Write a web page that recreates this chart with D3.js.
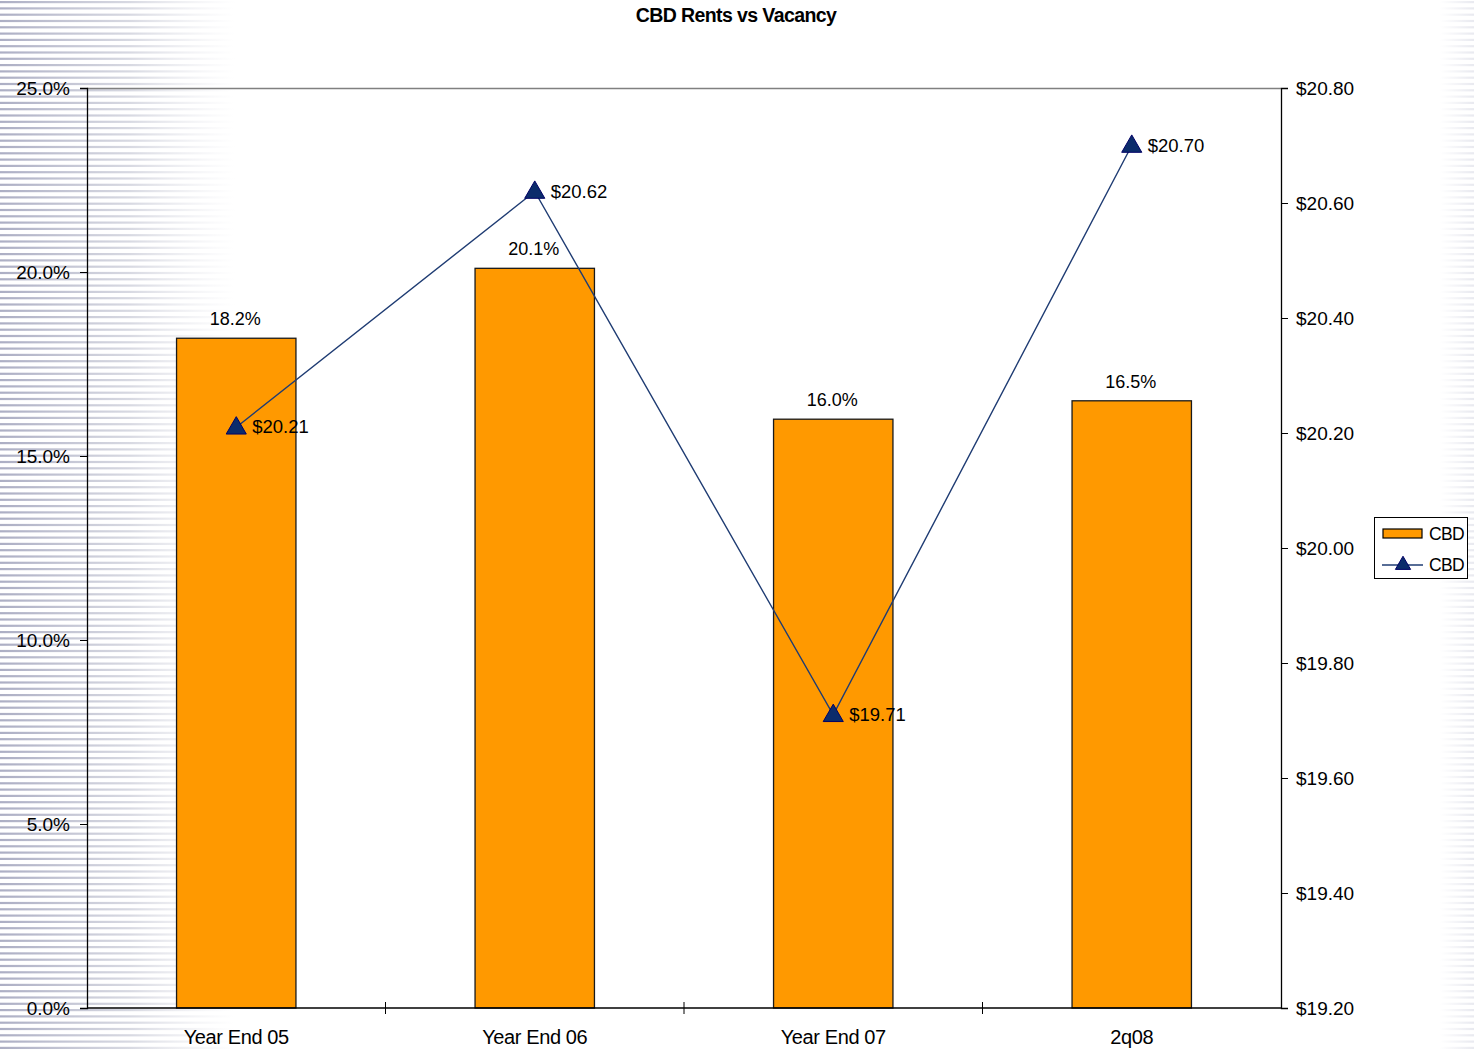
<!DOCTYPE html>
<html><head><meta charset="utf-8">
<script src="https://cdn.jsdelivr.net/npm/d3@7"></script>
<style>body{margin:0;background:#fff}svg{display:block;font-family:"Liberation Sans",Arial,sans-serif}</style>
</head><body><svg id="c" width="1474" height="1049"></svg>
<script>
const categories = ["Year End 05", "Year End 06", "Year End 07", "2q08"];
const vacancy = [18.2, 20.1, 16.0, 16.5];
const rents = [20.21, 20.62, 19.71, 20.70];
const leftTicks = [0, 5, 10, 15, 20, 25];
const rightTicks = [19.2, 19.4, 19.6, 19.8, 20.0, 20.2, 20.4, 20.6, 20.8];
const title = "CBD Rents vs Vacancy";
const seriesNames = ["CBD", "CBD"];

const W = 1474, H = 1049;
const m = {l: 87, r: 1281, t: 88, b: 1008};
const svg = d3.select("#c");
const defs = svg.append("defs");
const g1 = defs.append("linearGradient").attr("id","gl").attr("x1","0").attr("x2","1").attr("y1","0").attr("y2","0");
g1.append("stop").attr("offset","0").attr("stop-color","#acaec4").attr("stop-opacity",1);
g1.append("stop").attr("offset","0.55").attr("stop-color","#c6c8d5").attr("stop-opacity",0.7);
g1.append("stop").attr("offset","1").attr("stop-color","#e0e1e8").attr("stop-opacity",0);
const g2 = defs.append("linearGradient").attr("id","gr").attr("x1","0").attr("x2","1").attr("y1","0").attr("y2","0");
g2.append("stop").attr("offset","0").attr("stop-color","#e6e7ee").attr("stop-opacity",0);
g2.append("stop").attr("offset","1").attr("stop-color","#e6e7ee").attr("stop-opacity",0.9);

// striped background
const stripeYs = d3.range(1, H, 6.3);
svg.append("g").selectAll("rect").data(stripeYs).join("rect")
  .attr("x",0).attr("y",d=>d).attr("width",235).attr("height",2.2).attr("fill","url(#gl)");
svg.append("g").selectAll("rect").data(stripeYs).join("rect")
  .attr("x",1440).attr("y",d=>d).attr("width",34).attr("height",2.2).attr("fill","url(#gr)");

const x = d3.scaleBand().domain(categories).range([m.l, m.r]).padding(0);
const yL = d3.scaleLinear().domain([0,25]).range([m.b, m.t]);
const yR = d3.scaleLinear().domain([19.2,20.8]).range([m.b, m.t]);
const barW = x.bandwidth()*0.4;

// plot top border
svg.append("line").attr("x1",m.l).attr("x2",m.r).attr("y1",m.t+0.5).attr("y2",m.t+0.5).attr("stroke","#808080").attr("stroke-width",1.3);

// bars
svg.append("g").selectAll("rect").data(vacancy).join("rect")
  .attr("x",(d,i)=>x(categories[i])+x.bandwidth()/2-barW/2)
  .attr("y",d=>yL(d)).attr("width",barW).attr("height",d=>m.b-yL(d))
  .attr("fill","#ff9900").attr("stroke","#1a1a1a").attr("stroke-width",1.3);

// bar labels
svg.append("g").selectAll("text").data(vacancy).join("text")
  .attr("x",(d,i)=>x(categories[i])+x.bandwidth()/2-1).attr("y",d=>yL(d)-13)
  .attr("text-anchor","middle").attr("font-size",18).attr("fill","#000")
  .text(d=>d.toFixed(1)+"%");

// left axis
const la = svg.append("g").attr("transform",`translate(${m.l},0)`)
  .call(d3.axisLeft(yL).tickValues(leftTicks).tickSize(7).tickPadding(10).tickFormat(d=>d.toFixed(1)+"%"));
la.selectAll("text").attr("font-size",19).attr("font-family","Liberation Sans, Arial, sans-serif").attr("fill","#000");
la.select(".domain").attr("stroke","#000").attr("stroke-width",1.3);
la.selectAll(".tick line").attr("stroke","#000");

// right axis
const ra = svg.append("g").attr("transform",`translate(${m.r},0)`)
  .call(d3.axisRight(yR).tickValues(rightTicks).tickSize(7).tickPadding(8).tickFormat(d=>"$"+d.toFixed(2)));
ra.selectAll("text").attr("font-size",19).attr("font-family","Liberation Sans, Arial, sans-serif").attr("fill","#000");
ra.select(".domain").attr("stroke","#000").attr("stroke-width",1.3);
ra.selectAll(".tick line").attr("stroke","#000");

// bottom axis
svg.append("line").attr("x1",m.l).attr("x2",m.r).attr("y1",m.b).attr("y2",m.b).attr("stroke","#000").attr("stroke-width",1.3);
const bounds = categories.slice(1).map(c=>x(c));
svg.append("g").selectAll("line").data(bounds).join("line")
  .attr("x1",d=>d).attr("x2",d=>d).attr("y1",m.b-6).attr("y2",m.b+6).attr("stroke","#000");
svg.append("g").selectAll("text").data(categories).join("text")
  .attr("x",d=>x(d)+x.bandwidth()/2).attr("y",m.b+36).attr("text-anchor","middle")
  .attr("font-size",20).attr("fill","#000").attr("letter-spacing","-0.4").text(d=>d);

// line
const pts = rents.map((v,i)=>[x(categories[i])+x.bandwidth()/2, yR(v)]);
svg.append("path").attr("d",d3.line()(pts)).attr("fill","none").attr("stroke","#1f3c73").attr("stroke-width",1.4);
const tri = d3.symbol().type(d3.symbolTriangle).size(175);
svg.append("g").selectAll("path").data(pts).join("path")
  .attr("transform",d=>`translate(${d[0]},${d[1]+1})`).attr("d",tri)
  .attr("fill","#0b2c6b").attr("stroke","#000066").attr("stroke-width",1);
svg.append("g").selectAll("text").data(rents).join("text")
  .attr("x",(d,i)=>pts[i][0]+16).attr("y",(d,i)=>pts[i][1]+6)
  .attr("font-size",18.5).attr("fill","#000").text(d=>"$"+d.toFixed(2));

// title
svg.append("text").attr("x",736).attr("y",22).attr("text-anchor","middle")
  .attr("font-size",19.5).attr("font-weight","bold").attr("letter-spacing","-0.6").text(title);

// legend
const lg = svg.append("g").attr("transform","translate(1374,517)");
lg.append("rect").attr("x",0.5).attr("y",0.5).attr("width",93).attr("height",61).attr("fill","#fff").attr("stroke","#000").attr("stroke-width",1);
lg.append("rect").attr("x",9).attr("y",12).attr("width",39).attr("height",9).attr("fill","#ff9900").attr("stroke","#000").attr("stroke-width",1.2);
lg.append("text").attr("x",55).attr("y",23).attr("font-size",17.5).attr("letter-spacing","-0.6").text(seriesNames[0]);
lg.append("line").attr("x1",8).attr("x2",49).attr("y1",48).attr("y2",48).attr("stroke","#1f3c73").attr("stroke-width",1.4);
lg.append("path").attr("transform","translate(29,48)").attr("d",d3.symbol().type(d3.symbolTriangle).size(100)).attr("fill","#0b2c6b").attr("stroke","#000066");
lg.append("text").attr("x",55).attr("y",54).attr("font-size",17.5).attr("letter-spacing","-0.6").text(seriesNames[1]);
</script></body></html>
